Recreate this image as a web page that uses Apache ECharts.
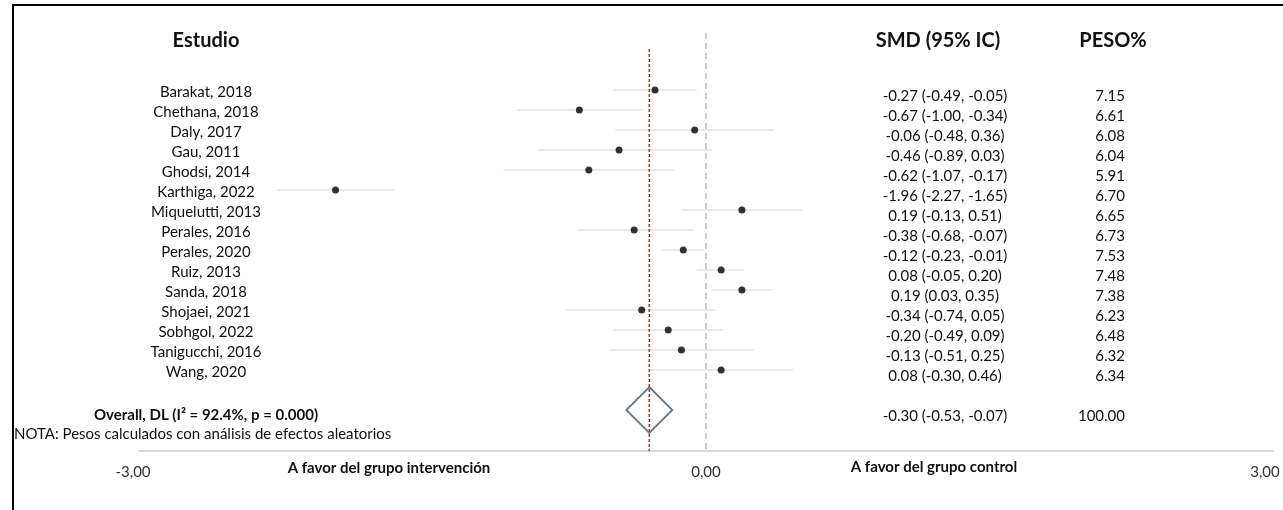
<!DOCTYPE html>
<html>
<head>
<meta charset="utf-8">
<script src="https://cdn.jsdelivr.net/npm/echarts@6/dist/echarts.min.js"></script>
<style>
  html, body { margin: 0; padding: 0; background: #fff; }
  #wrap { position: relative; width: 1283px; height: 510px; overflow: hidden; }
  #chart { position: absolute; left: 0; top: 0; width: 1283px; height: 510px; }
  #frame { position: absolute; left: 12px; top: 4px; right: -4px; bottom: -4px;
           border-top: 2px solid #000; border-left: 2px solid #000; pointer-events: none; }
</style>
</head>
<body>
<div id="wrap">
  <div id="frame"></div>
  <div id="chart"></div>
</div>
<script>
// ---- data ----
const studies = ['Barakat, 2018','Chethana, 2018','Daly, 2017','Gau, 2011','Ghodsi, 2014','Karthiga, 2022',
  'Miquelutti, 2013','Perales, 2016','Perales, 2020','Ruiz, 2013','Sanda, 2018','Shojaei, 2021',
  'Sobhgol, 2022','Tanigucchi, 2016','Wang, 2020'];
const smd   = [-0.27,-0.67,-0.06,-0.46,-0.62,-1.96, 0.19,-0.38,-0.12, 0.08, 0.19,-0.34,-0.20,-0.13, 0.08];
const lower = [-0.49,-1.00,-0.48,-0.89,-1.07,-2.27,-0.13,-0.68,-0.23,-0.05, 0.03,-0.74,-0.49,-0.51,-0.30];
const upper = [-0.05,-0.34, 0.36, 0.03,-0.17,-1.65, 0.51,-0.07,-0.01, 0.20, 0.35, 0.05, 0.09, 0.25, 0.46];
const weight = ['7.15','6.61','6.08','6.04','5.91','6.70','6.65','6.73','7.53','7.48','7.38','6.23','6.48','6.32','6.34'];
const overallSmd = -0.30, overallLower = -0.53, overallUpper = -0.07, overallWeight = '100.00';
const overallLabel = 'Overall, DL (I\u00B2 = 92.4%, p = 0.000)';
const xTicks = [-3, 0, 3];
const xTickLabels = ['-3,00', '0,00', '3,00'];

// ---- layout ----
const OVERALL_ROW = studies.length + 1;   // one blank row before overall
const Y_MIN = -2.85, Y_MAX = 18.05, RED_TOP = -2.05;
const FONT = 'Lato';
const TXT = '#111';
const fmt = v => v.toFixed(2);
const rowIdx = studies.map((_, i) => i);
const smdText = studies.map((_, i) => `${fmt(smd[i])} (${fmt(lower[i])}, ${fmt(upper[i])})`);
const overallSmdText = `${fmt(overallSmd)} (${fmt(overallLower)}, ${fmt(overallUpper)})`;

const gridLeft = 139;
const baseY = {
  type: 'value', min: Y_MIN, max: Y_MAX, inverse: true, position: 'left',
  axisLine: { show: false }, axisTick: { show: false }, splitLine: { show: false }
};
const titleStyle = (size, weight) => ({ fontFamily: FONT, fontSize: size, fontWeight: weight, color: TXT });

const chart = echarts.init(document.getElementById('chart'));
chart.setOption({
  animation: false,
  textStyle: { fontFamily: FONT },
  grid: { left: gridLeft, right: 10, top: 33, bottom: 59 },
  title: [
    { text: 'Estudio', left: 206, top: 31, textAlign: 'center', padding: 0, textStyle: titleStyle(20, 'bold') },
    { text: 'SMD (95% IC)', left: 938, top: 31, textAlign: 'center', padding: 0, textStyle: titleStyle(20, 'bold') },
    { text: 'PESO%', left: 1113, top: 31, textAlign: 'center', padding: 0, textStyle: titleStyle(20, 'bold') },
    { text: 'NOTA: Pesos calculados con análisis de efectos aleatorios', left: 14, top: 427, padding: 0,
      textStyle: titleStyle(15, 'normal') },
    { text: 'A favor del grupo intervención', left: 389, top: 461, textAlign: 'center', padding: 0,
      textStyle: titleStyle(15, 'bold') },
    { text: 'A favor del grupo control', left: 934, top: 460, textAlign: 'center', padding: 0,
      textStyle: titleStyle(15, 'bold') }
  ],
  xAxis: {
    type: 'value', min: -3, max: 3,
    axisLine: { show: true, onZero: false, lineStyle: { color: '#d9d9d9', width: 2 } },
    axisTick: { show: false },
    splitLine: { show: false },
    axisLabel: {
      customValues: xTicks, margin: 14, fontSize: 15, color: '#333',
      formatter: v => {
        const i = xTicks.indexOf(v);
        const key = i === 0 ? 'l' : (i === xTicks.length - 1 ? 'r' : 'c');
        return `{${key}|${xTickLabels[i]}}`;
      },
      rich: {
        l: { fontSize: 15, color: '#333', padding: [0, 12, 0, 0] },
        c: { fontSize: 15, color: '#333' },
        r: { fontSize: 15, color: '#333', padding: [0, 16, 0, 0] }
      }
    }
  },
  yAxis: [
    Object.assign({}, baseY, { show: false }),
    Object.assign({}, baseY, {
      offset: gridLeft - 206,
      axisLabel: {
        customValues: rowIdx.concat([OVERALL_ROW]), margin: 0, align: 'center',
        formatter: v => v === OVERALL_ROW ? `{o|${overallLabel}}` : `{n|${studies[v]}}`,
        rich: {
          n: { fontSize: 15, color: TXT, padding: [5, 0, 0, 0] },
          o: { fontSize: 15, fontWeight: 'bold', color: TXT, padding: [10, 0, 0, 0] }
        }
      }
    }),
    Object.assign({}, baseY, {
      offset: gridLeft - 945,
      axisLabel: {
        customValues: rowIdx.concat([OVERALL_ROW]), margin: 0, align: 'center',
        formatter: v => `{v|${v === OVERALL_ROW ? overallSmdText : smdText[v]}}`,
        rich: { v: { fontSize: 15, color: TXT, padding: [13, 0, 0, 0] } }
      }
    }),
    Object.assign({}, baseY, {
      offset: gridLeft - 1125,
      axisLabel: {
        customValues: rowIdx.concat([OVERALL_ROW]), margin: 0, align: 'right',
        formatter: v => `{v|${v === OVERALL_ROW ? overallWeight : weight[v]}}`,
        rich: { v: { fontSize: 15, color: TXT, padding: [13, 0, 0, 0] } }
      }
    })
  ],
  series: [
    {
      type: 'custom', name: 'IC 95%', yAxisIndex: 0, z: 2,
      data: studies.map((_, i) => [lower[i], upper[i], i]),
      encode: { x: [0, 1], y: 2 },
      renderItem: (params, api) => {
        const y = api.value(2);
        const a = api.coord([api.value(0), y]);
        const b = api.coord([api.value(1), y]);
        return { type: 'line', shape: { x1: a[0], y1: a[1], x2: b[0], y2: b[1] },
                 style: { stroke: '#d4d4d4', lineWidth: 1.2 } };
      }
    },
    {
      type: 'scatter', name: 'SMD', yAxisIndex: 0, z: 4,
      symbol: 'circle', symbolSize: 7,
      itemStyle: { color: '#000' },
      data: smd.map((v, i) => [v, i]),
      markLine: {
        silent: true, symbol: 'none', label: { show: false },
        lineStyle: { color: '#bdbdbd', type: [6, 4], width: 1.5 },
        data: [{ xAxis: 0 }]
      }
    },
    {
      type: 'scatter', name: 'Overall', yAxisIndex: 0, z: 3,
      symbol: 'diamond', symbolSize: [46, 46],
      itemStyle: { color: 'rgba(255,255,255,0)', borderColor: '#44546a', borderWidth: 1.8 },
      data: [[overallSmd, OVERALL_ROW]]
    },
    {
      type: 'line', name: 'Overall line', yAxisIndex: 0, z: 5,
      symbol: 'none',
      lineStyle: { color: '#c62828', type: [3, 2], width: 1.5 },
      data: [[overallSmd, RED_TOP], [overallSmd, Y_MAX]]
    }
  ]
});
</script>
</body>
</html>
